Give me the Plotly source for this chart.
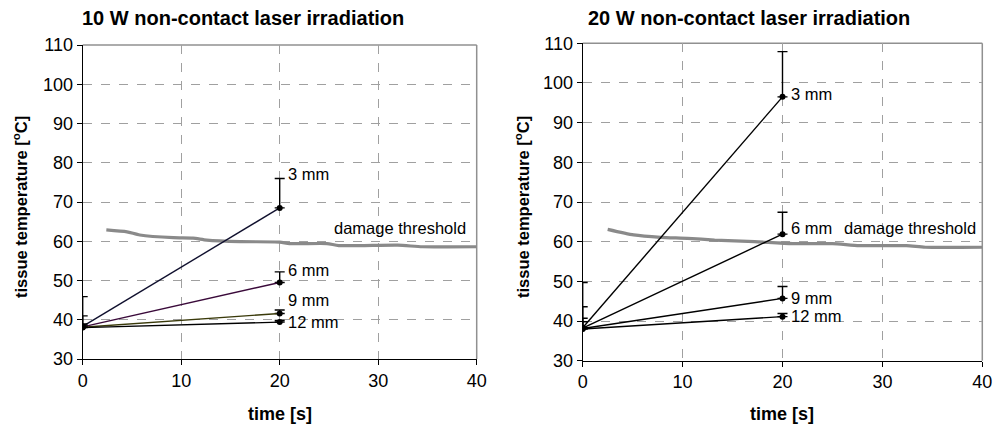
import plotly.graph_objects as go

# ---------------- data ----------------
time_pts = [0, 20]
depth_labels = ["3 mm", "6 mm", "9 mm", "12 mm"]

# 10 W panel
temp_10w = {
    "3 mm": [38.3, 68.5],
    "6 mm": [38.2, 49.5],
    "9 mm": [38.1, 41.6],
    "12 mm": [38.0, 39.4],
}
err_10w = {
    "3 mm": [7.6, 7.5],
    "6 mm": [2.8, 2.7],
    "9 mm": [0.8, 0.9],
    "12 mm": [0.4, 0.4],
}
colors_10w = {"3 mm": "#10102e", "6 mm": "#3a0a3a", "9 mm": "#3a3a0a", "12 mm": "#000000"}

# 20 W panel
temp_20w = {
    "3 mm": [38.3, 96.5],
    "6 mm": [38.2, 61.9],
    "9 mm": [38.1, 45.7],
    "12 mm": [38.0, 41.1],
}
err_20w = {
    "3 mm": [11.4, 11.4],
    "6 mm": [5.4, 5.5],
    "9 mm": [2.6, 3.0],
    "12 mm": [1.8, 0.8],
}
colors_20w = {"3 mm": "#000000", "6 mm": "#000000", "9 mm": "#000000", "12 mm": "#000000"}

# damage threshold curves
thr_t_10w = [2.4, 4.5, 5.8, 9.2, 11.2, 12.6, 16, 20, 21, 24.8, 26, 32, 34.5, 40]
thr_v_10w = [62.9, 62.4, 61.6, 60.9, 60.8, 60.3, 59.9, 59.8, 59.4, 59.4, 58.9, 59.0, 58.6, 58.6]
thr_t_20w = [2.5, 5.1, 7.8, 10.5, 13.2, 17.2, 21, 25, 27.7, 32.4, 34.3, 40]
thr_v_20w = [63.1, 61.7, 61.1, 60.85, 60.4, 60.0, 59.5, 59.5, 59.0, 59.0, 58.6, 58.6]

# label positions (layout)
lbl_y_10w = {"3 mm": 77.1, "6 mm": 52.7, "9 mm": 45.0, "12 mm": 39.4}
lbl_y_20w = {"3 mm": 97.1, "6 mm": 63.5, "9 mm": 45.9, "12 mm": 41.3}

titles = ["10 W non-contact laser irradiation", "20 W non-contact laser irradiation"]
x_ticks = [0, 10, 20, 30, 40]
y_ticks = [30, 40, 50, 60, 70, 80, 90, 100, 110]

FONT = "Liberation Sans, Arial, sans-serif"
W, H = 999, 429

fig = go.Figure()

panels = [
    dict(temp=temp_10w, err=err_10w, colors=colors_10w, thr_t=thr_t_10w, thr_v=thr_v_10w,
         lbl=lbl_y_10w, xa="x", ya="y"),
    dict(temp=temp_20w, err=err_20w, colors=colors_20w, thr_t=thr_t_20w, thr_v=thr_v_20w,
         lbl=lbl_y_20w, xa="x2", ya="y2"),
]

for p in panels:
    fig.add_trace(go.Scatter(x=p["thr_t"], y=p["thr_v"], mode="lines",
                             line=dict(color="#8a8a8a", width=3.2, shape="spline", smoothing=0.6),
                             xaxis=p["xa"], yaxis=p["ya"], showlegend=False, hoverinfo="skip"))
    for d in depth_labels:
        fig.add_trace(go.Scatter(
            x=time_pts, y=p["temp"][d], mode="lines+markers",
            line=dict(color=p["colors"][d], width=1.4),
            marker=dict(color="#000000", size=6),
            error_y=dict(type="data", symmetric=False, array=p["err"][d],
                         arrayminus=[0, 0], color="#000000", thickness=1.4, width=5),
            xaxis=p["xa"], yaxis=p["ya"], showlegend=False, name=d))

# ---------- layout ----------
dom_l_x = [82.7 / W, 476.7 / W]
dom_r_x = [582.7 / W, 982.3 / W]
dom_l_y = [1 - 359 / H, 1 - 45 / H]
dom_r_y = [1 - 360.7 / H, 1 - 43.3 / H]

axis_common = dict(showgrid=True, gridcolor="#a0a0a0", griddash="dash", gridwidth=1,
                   showline=True, linecolor="#000000", linewidth=1.3,
                   ticks="outside", ticklen=5, tickcolor="#000000", tickwidth=1.2,
                   tickfont=dict(family=FONT, size=18, color="#000000"),
                   zeroline=False, fixedrange=True, automargin=False)

fig.update_layout(
    width=W, height=H,
    margin=dict(l=0, r=0, t=0, b=0, autoexpand=False),
    paper_bgcolor="white", plot_bgcolor="white",
    xaxis=dict(domain=dom_l_x, range=[0, 40], tickvals=x_ticks, anchor="y", **axis_common),
    yaxis=dict(domain=dom_l_y, range=[30, 110], tickvals=y_ticks, anchor="x", **axis_common),
    xaxis2=dict(domain=dom_r_x, range=[0, 40], tickvals=x_ticks, anchor="y2", **axis_common),
    yaxis2=dict(domain=dom_r_y, range=[30, 110], tickvals=y_ticks, anchor="x2", **axis_common),
)

shapes = []
for xd, yd in [(dom_l_x, dom_l_y), (dom_r_x, dom_r_y)]:
    # gray top and right frame
    shapes.append(dict(type="line", xref="paper", yref="paper", x0=xd[0], x1=xd[1], y0=yd[1], y1=yd[1],
                       line=dict(color="#909090", width=1.5), layer="below"))
    shapes.append(dict(type="line", xref="paper", yref="paper", x0=xd[1], x1=xd[1], y0=yd[0], y1=yd[1],
                       line=dict(color="#909090", width=1.5), layer="below"))
fig.update_layout(shapes=shapes)

ann = []
# titles
for title, cx in zip(titles, [243 / W, 749 / W]):
    ann.append(dict(text="<b>" + title + "</b>", xref="paper", yref="paper", x=cx, y=1 - 18 / H,
                    xanchor="center", yanchor="middle", showarrow=False,
                    font=dict(family=FONT, size=20, color="#000000")))
# axis titles
for cx in [20 / W, 522 / W]:
    ann.append(dict(text="<b>tissue temperature [<sup>o</sup>C]</b>", xref="paper", yref="paper",
                    x=cx, y=1 - 207 / H, textangle=-90, xanchor="center", yanchor="middle",
                    showarrow=False, font=dict(family=FONT, size=16.5, color="#000000")))
for cx in [280 / W, 781.7 / W]:
    ann.append(dict(text="<b>time [s]</b>", xref="paper", yref="paper", x=cx, y=1 - 414 / H,
                    xanchor="center", yanchor="middle", showarrow=False,
                    font=dict(family=FONT, size=18, color="#000000")))
# series labels
for p in panels:
    for d in depth_labels:
        ann.append(dict(text=d, xref=p["xa"], yref=p["ya"], x=20, y=p["lbl"][d], xanchor="left",
                        yanchor="middle", xshift=6, showarrow=False,
                        font=dict(family=FONT, size=16.5, color="#000000")))
ann.append(dict(text="damage threshold", xref="x", yref="y", x=40, y=63.3, xanchor="right",
                yanchor="middle", xshift=-9, showarrow=False,
                font=dict(family=FONT, size=16.5, color="#000000")))
ann.append(dict(text="damage threshold", xref="x2", yref="y2", x=40, y=63.5, xanchor="right",
                yanchor="middle", xshift=-4, showarrow=False,
                font=dict(family=FONT, size=16.5, color="#000000")))
fig.update_layout(annotations=ann)

fig.write_html("out.html", config={"displayModeBar": False},
               post_script="document.body.style.margin='0';document.body.style.overflow='hidden';")
